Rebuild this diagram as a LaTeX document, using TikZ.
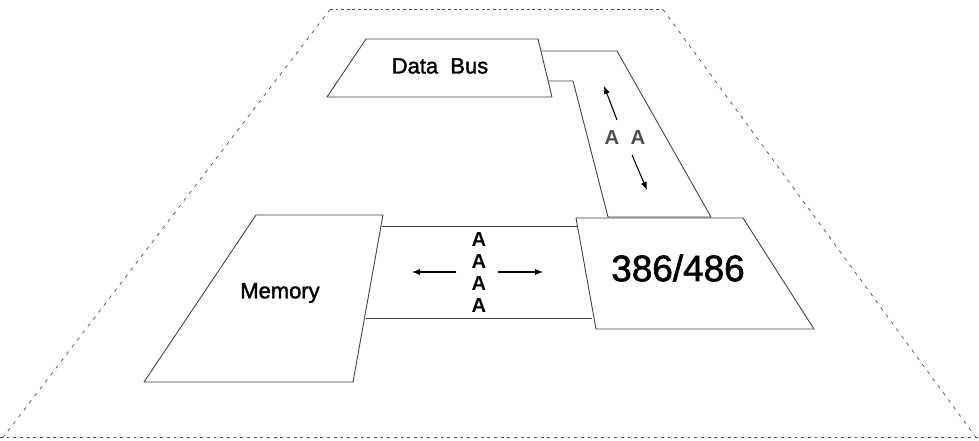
\documentclass[tikz,border=0pt]{standalone}
\usepackage{fontspec}
\setmainfont{Liberation Sans}
\newfontfamily\heavy[FakeBold=1.6]{Liberation Sans}
\usetikzlibrary{arrows.meta}
\tikzstyle{plate} = [draw=black!75, line width=.5pt, fill=white, line join=round]
\tikzstyle{lane} = [draw=black!75, line width=.5pt]
\tikzstyle{flow} = [-{Latex[length=4.5pt,width=3.6pt]}, line width=.6pt]
\tikzstyle{bit} = [inner sep=0pt, font=\fontsize{11.5}{11.5}\selectfont\bfseries]
\newcommand{\lbl}[1]{\heavy\fontsize{#1}{#1}\selectfont}

\begin{document}
\begin{tikzpicture}[x=0.02cm, y=-0.02cm]
	\useasboundingbox (0,0) rectangle (979,440);
	% outer frame
	\draw[black!70, dash pattern=on 1.6pt off 1.6pt] (330,9.5) -- (663,9.5);
	\draw[black!70, dash pattern=on 1.6pt off 2.2pt] (0,437.5) -- (979,437.5);
	\draw[black!70, dash pattern=on 2pt off 3pt] (330,9.5) -- (3,437.5);
	\draw[black!70, dash pattern=on 2pt off 3pt] (663,9.5) -- (976,437.5);
	% bus from data bus down to the cpu
	\draw[plate] (541,51) -- (617,51) -- (711,217) -- (608,217) -- (573,81) -- (548,81);
	% data bus
	\draw[plate] (366,39) -- (538,39) -- (552,97) -- (327,97) -- cycle;
	\node (dbus) at (440,66) {\lbl{12.5}Data\ \ Bus};
	% bus between memory and cpu
	\draw[lane] (382,226) -- (577,226);
	\draw[lane] (366,318) -- (592,318);
	% memory
	\draw[plate] (256,215) -- (383,215) -- (353,382) -- (144,382) -- cycle;
	\node (mem) at (280,293) {\lbl{12.5}Memory};
	% cpu
	\draw[plate] (576,218) -- (743,218) -- (814,329) -- (596,329) -- cycle;
	\node (cpu) at (678,268) {\lbl{21}386/486};
	% bits on the lower bus
	\node[bit] (b1) at (479,240) {A};
	\node[bit] (b2) at (479,262) {A};
	\node[bit] (b3) at (479,284) {A};
	\node[bit] (b4) at (479,306) {A};
	\coordinate (lft0) at (456,272);
	\coordinate (lft1) at (412,272);
	\coordinate (rgt0) at (498,272);
	\coordinate (rgt1) at (543,272);
	\draw[flow] (lft0) -- (lft1);
	\draw[flow] (rgt0) -- (rgt1);
	% bits on the upper bus
	\node[bit, black!70] (v1) at (612,138) {A};
	\node[bit, black!70] (v2) at (638,138) {A};
	\coordinate (up0) at (617,120);
	\coordinate (up1) at (604,86);
	\coordinate (dn0) at (632,155);
	\coordinate (dn1) at (647,190);
	\draw[flow] (up0) -- (up1);
	\draw[flow] (dn0) -- (dn1);
\end{tikzpicture}
\end{document}
